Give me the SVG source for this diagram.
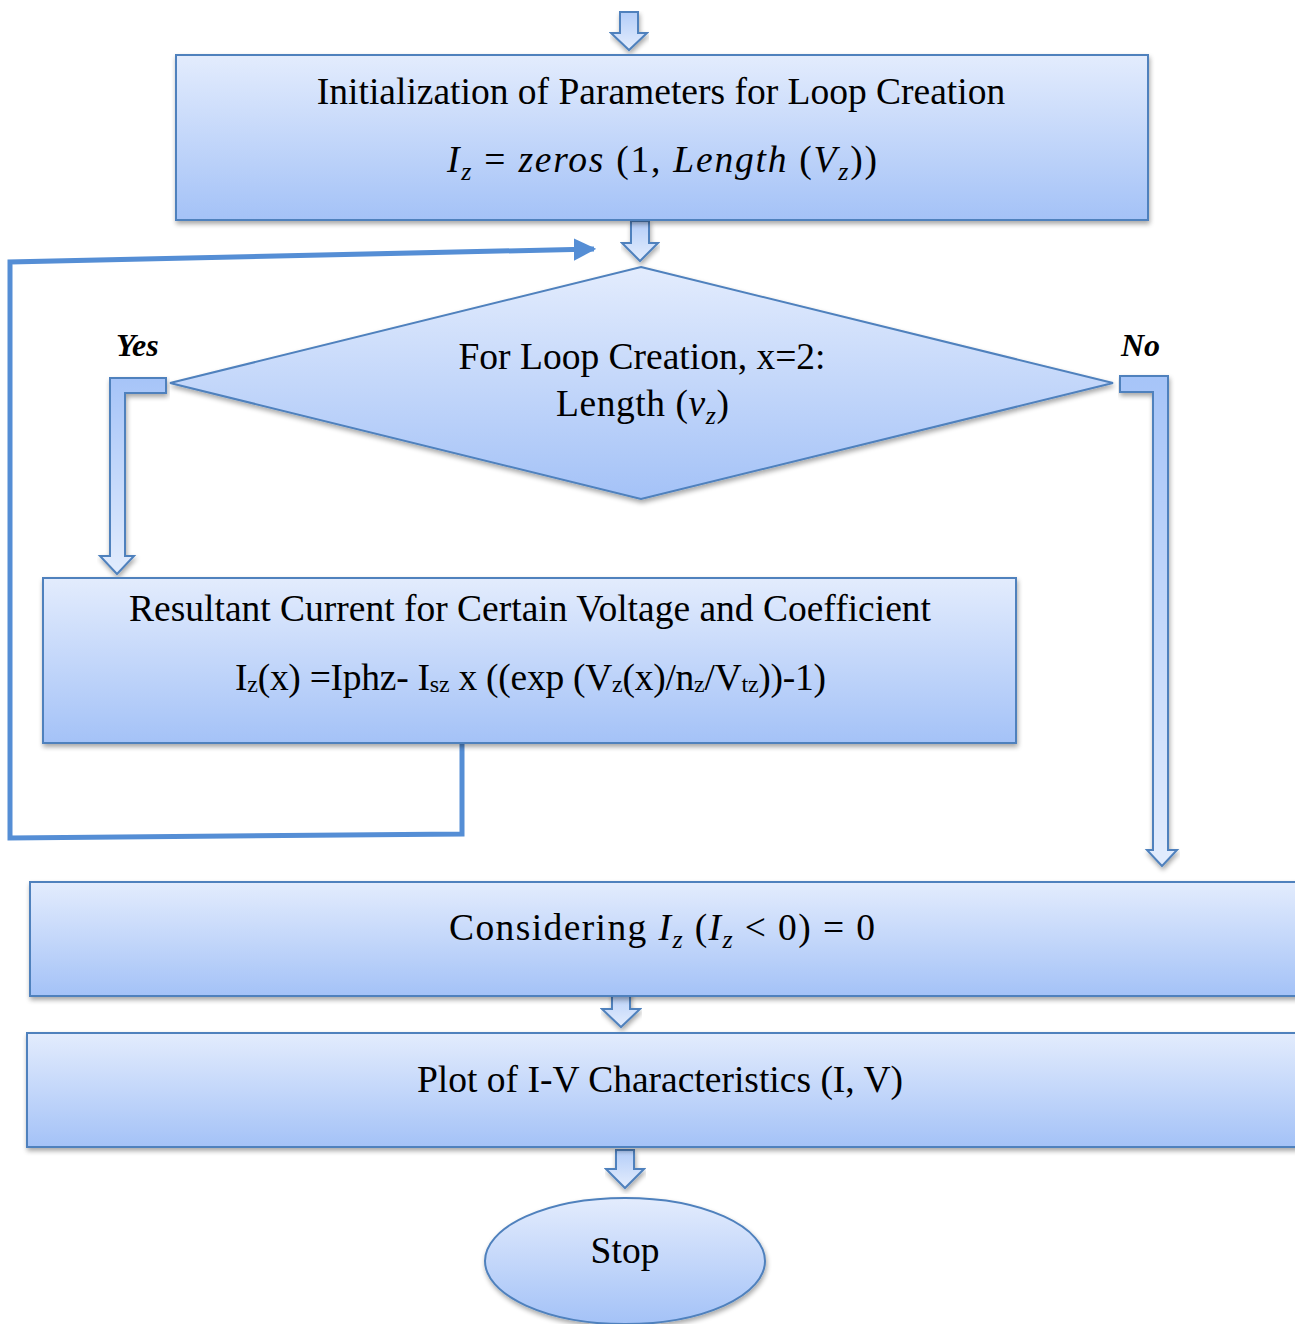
<svg xmlns="http://www.w3.org/2000/svg" width="1295" height="1324" viewBox="0 0 1295 1324">
<defs>
<linearGradient id="boxg" x1="0" y1="0" x2="0" y2="1">
<stop offset="0" stop-color="#e3ecfd"/>
<stop offset="1" stop-color="#a4c2f7"/>
</linearGradient>
<linearGradient id="arrg" x1="0" y1="0" x2="0" y2="1">
<stop offset="0" stop-color="#b3cdf8"/>
<stop offset="1" stop-color="#e4edfd"/>
</linearGradient>
<linearGradient id="longg" x1="0" y1="0" x2="0" y2="1">
<stop offset="0" stop-color="#a6c4f8"/>
<stop offset="1" stop-color="#e2ecfd"/>
</linearGradient>
<filter id="sh" x="-5%" y="-10%" width="110%" height="125%">
<feGaussianBlur in="SourceAlpha" stdDeviation="2.5"/>
<feOffset dx="1" dy="3" result="b"/>
<feComponentTransfer><feFuncA type="linear" slope="0.35"/></feComponentTransfer>
<feMerge><feMergeNode/><feMergeNode in="SourceGraphic"/></feMerge>
</filter>
<marker id="ah" viewBox="0 0 10 10" refX="9" refY="5" markerWidth="4.5" markerHeight="4.5" orient="auto" markerUnits="strokeWidth">
<path d="M0,0 L10,5 L0,10 Z" fill="#558ed5"/>
</marker>
</defs>
<style>
.box{fill:url(#boxg);stroke:#4f81bd;stroke-width:2;filter:url(#sh)}
.barr{fill:url(#arrg);stroke:#4f81bd;stroke-width:2;filter:url(#sh)}
.larr{fill:url(#longg);stroke:#4f81bd;stroke-width:2;filter:url(#sh)}
.t{font-family:"Liberation Serif","Times New Roman",serif;font-size:37.5px;fill:#000;text-anchor:middle}
.m{font-family:"Liberation Serif","Times New Roman",serif;font-size:37.5px;fill:#000}
.i{font-style:italic}
.lbl{font-family:"Liberation Serif","Times New Roman",serif;font-size:32px;font-weight:bold;font-style:italic;fill:#000}
.fb{fill:none;stroke:#558ed5;stroke-width:5}
</style>

<g id="connectors">
<path class="barr" d="M620,12 L638,12 L638,33 L647,33 L629,50 L611,33 L620,33 Z"/>
<path class="barr" d="M631,221 L649,221 L649,243 L658,243 L640,261 L622,243 L631,243 Z"/>
<path class="fb" d="M462,743 L462,834 L10,838 L10,262 L594,249" marker-end="url(#ah)"/>
<path class="larr" d="M166,378 L166,393 L125,393 L125,556 L134,556 L117,574 L100,556 L110,556 L110,378 Z"/>
<path class="larr" d="M1120,376 L1168,376 L1168,850 L1177,850 L1162,866 L1147,850 L1153,850 L1153,392 L1120,392 Z"/>
<path class="barr" d="M612,990 L630,990 L630,1009 L640,1009 L621,1027 L602,1009 L612,1009 Z"/>
<path class="barr" d="M616,1150 L634,1150 L634,1169 L644,1169 L625,1188 L606,1169 L616,1169 Z"/>
</g>

<g id="init">
<rect class="box" x="176" y="55" width="972" height="165"/>
<text class="t" x="661" y="104">Initialization of Parameters for Loop Creation</text>
<text class="m" x="447" y="172" textLength="430" lengthAdjust="spacing"><tspan class="i">I</tspan><tspan class="i" font-size="26" dy="8">z</tspan><tspan dy="-8"> = </tspan><tspan class="i">zeros</tspan> (1, <tspan class="i">Length</tspan> (<tspan class="i">V</tspan><tspan class="i" font-size="26" dy="8">z</tspan><tspan dy="-8">))</tspan></text>
</g>

<g id="loop">
<polygon class="box" points="641,267 1113,383 641,499 170,383"/>
<text class="t" x="642" y="369">For Loop Creation, x=2:</text>
<text class="m" x="556" y="416" textLength="173" lengthAdjust="spacing">Length (<tspan class="i">v</tspan><tspan class="i" font-size="26" dy="8">z</tspan><tspan dy="-8">)</tspan></text>
</g>

<g id="yes-label"><text class="lbl" x="116" y="356">Yes</text></g>
<g id="no-label"><text class="lbl" x="1121" y="356">No</text></g>

<g id="resultant">
<rect class="box" x="43" y="578" width="973" height="165"/>
<text class="t" x="530" y="621">Resultant Current for Certain Voltage and Coefficient</text>
<text class="m" x="235" y="690" textLength="591" lengthAdjust="spacing">I<tspan font-size="24" dy="2">z</tspan><tspan dy="-2">(x) =Iphz- I</tspan><tspan font-size="24" dy="2">sz</tspan><tspan dy="-2"> x ((exp (V</tspan><tspan font-size="24" dy="2">z</tspan><tspan dy="-2">(x)/n</tspan><tspan font-size="24" dy="2">z</tspan><tspan dy="-2">/V</tspan><tspan font-size="24" dy="2">tz</tspan><tspan dy="-2">))-1)</tspan></text>
</g>

<g id="considering">
<rect class="box" x="30" y="882" width="1275" height="114"/>
<text class="m" x="449" y="940" textLength="426" lengthAdjust="spacing">Considering <tspan class="i">I</tspan><tspan class="i" font-size="26" dy="8">z</tspan><tspan dy="-8"> (</tspan><tspan class="i">I</tspan><tspan class="i" font-size="26" dy="8">z</tspan><tspan dy="-8"> &lt; 0) = 0</tspan></text>
</g>

<g id="plot">
<rect class="box" x="27" y="1033" width="1278" height="114"/>
<text class="t" x="660" y="1092">Plot of I-V Characteristics (I, V)</text>
</g>

<g id="stop">
<ellipse class="box" cx="625" cy="1261" rx="140" ry="63"/>
<text class="t" x="625" y="1263">Stop</text>
</g>
</svg>
